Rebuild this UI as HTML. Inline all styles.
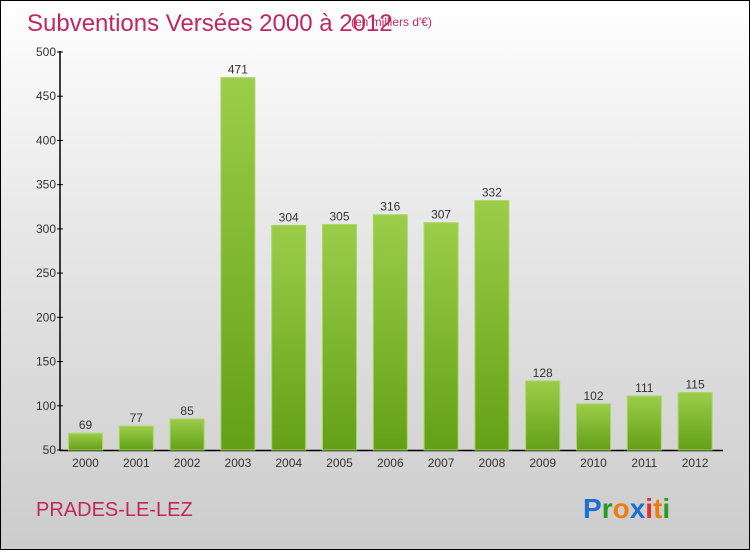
<!DOCTYPE html>
<html><head><meta charset="utf-8"><style>
html,body{margin:0;padding:0}
body{width:750px;height:550px;overflow:hidden;font-family:"Liberation Sans",sans-serif}
#wrap{position:absolute;left:0;top:0;width:748px;height:548px;border:1px solid #000;background:linear-gradient(#ffffff,#e8e8e8 40%,#cccccc)}
</style></head><body>
<div id="wrap">
<svg width="748" height="548">
<defs><linearGradient id="g" x1="0" y1="0" x2="0" y2="1"><stop offset="0" stop-color="#9ccd4a"/><stop offset="1" stop-color="#63a017"/></linearGradient></defs>
<text x="26" y="30" font-size="24" fill="#c0275e">Subventions Versées 2000 à 2012</text>
<text x="350" y="25" font-size="12" fill="#c0275e">(en milliers d'€)</text>
<g id="plot"></g>
<text x="35" y="515" font-size="20" fill="#c0275e">PRADES-LE-LEZ</text>
<text x="582" y="517" font-size="28" font-weight="bold"><tspan fill="#1e6fd0">P</tspan><tspan fill="#2a9a2a">r</tspan><tspan fill="#f07b10">o</tspan><tspan fill="#1e6fd0">x</tspan><tspan fill="#e03030">i</tspan><tspan fill="#f07b10">t</tspan><tspan fill="#2a9a2a">i</tspan></text>
</svg></div>
<script>
const categories=["2000","2001","2002","2003","2004","2005","2006","2007","2008","2009","2010","2011","2012"];
const values=[69,77,85,471,304,305,316,307,332,128,102,111,115];
const yTicks=[50,100,150,200,250,300,350,400,450,500];
const NS="http://www.w3.org/2000/svg";
const g=document.getElementById("plot");
const y=v=>449-(v-50)*(398/450);
const x=i=>84.5+i*50.8;
function mk(t,a){const e=document.createElementNS(NS,t);for(const k in a)e.setAttribute(k,a[k]);g.appendChild(e);return e;}
let ax=mk("line",{x1:59,y1:50,x2:59,y2:450,stroke:"#000","stroke-width":1.5});


let bx=mk("line",{x1:59,y1:449.5,x2:722,y2:449.5,stroke:"#000","stroke-width":1.5});


yTicks.forEach(t=>{
 let l=mk("line",{x1:56,y1:y(t),x2:62,y2:y(t),stroke:"#000"});
 
 
 let tx=mk("text",{x:55,y:y(t)+4,"font-size":12,fill:"#333","text-anchor":"end"});tx.textContent=t;
 
 
});
categories.forEach((c,i)=>{
 const v=values[i];
 let r=mk("rect",{x:x(i)-17,y:y(v),width:34,height:449-y(v),fill:"url(#g)",stroke:"#a8d860","stroke-width":1});
 
 
 let vl=mk("text",{x:x(i),y:y(v)-4,"font-size":12,fill:"#333","text-anchor":"middle"});vl.textContent=v;
 
 
 let cl=mk("text",{x:x(i),y:466,"font-size":12,fill:"#333","text-anchor":"middle"});cl.textContent=c;
 
 
});
</script>
</body></html>
